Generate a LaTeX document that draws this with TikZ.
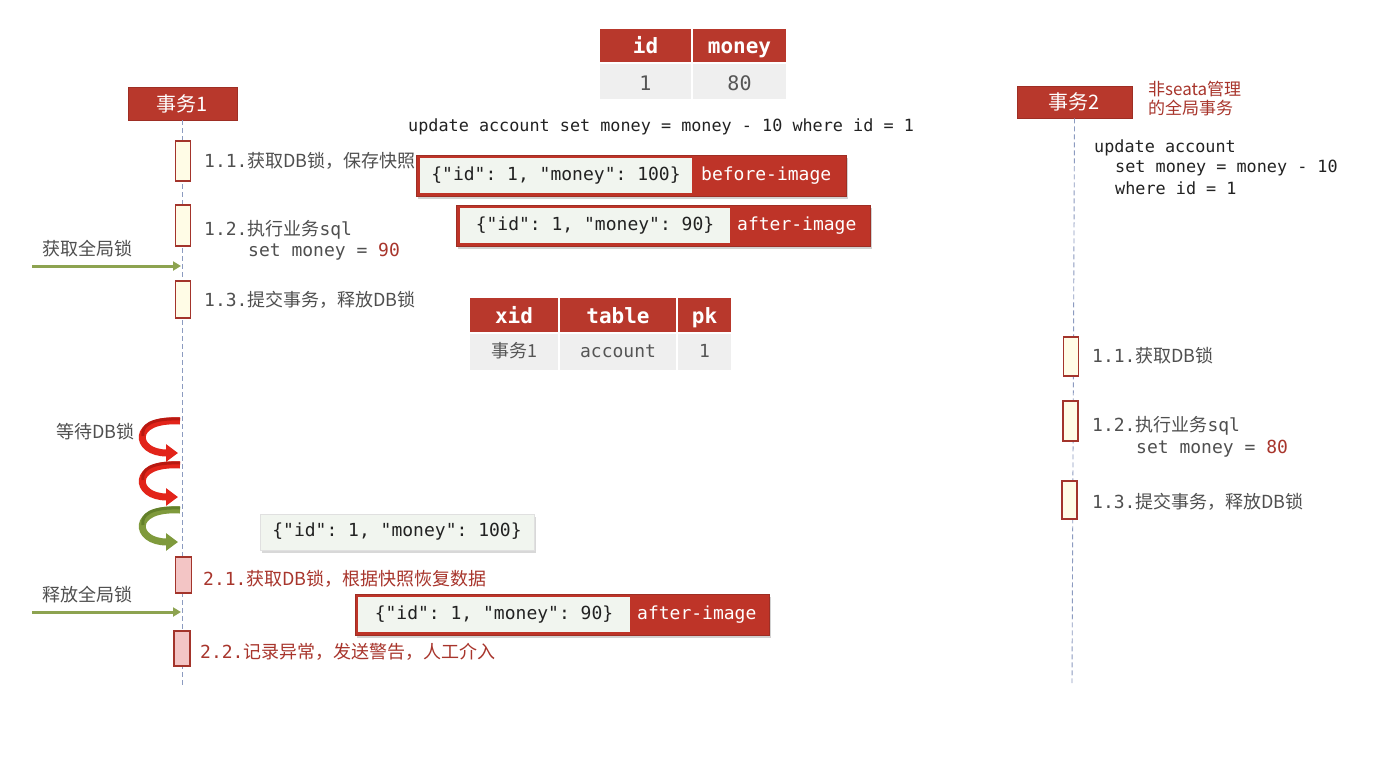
\documentclass[tikz,border=0pt]{standalone}
\usepackage{fontspec}
\setmainfont{Noto Sans CJK SC}
\setmonofont{DejaVu Sans Mono}
\newfontfamily\cjk{Noto Sans CJK SC}
\usetikzlibrary{shadows,arrows.meta}
\definecolor{hdr}{HTML}{B8382C}
\definecolor{hdrline}{HTML}{9E2E24}
\definecolor{cellbg}{HTML}{EFEFEF}
\definecolor{lifeline}{HTML}{8C9BC0}
\definecolor{actfill}{HTML}{FFFCE6}
\definecolor{actdraw}{HTML}{A3342B}
\definecolor{pinkfill}{HTML}{F3C5C5}
\definecolor{txtgray}{HTML}{4F4F4F}
\definecolor{celltxt}{HTML}{555555}
\definecolor{redtxt}{HTML}{A8352C}
\definecolor{jsonbg}{HTML}{F1F5EF}
\definecolor{arrgreen}{HTML}{8DA350}
\definecolor{curlred}{HTML}{E2241A}
\definecolor{curlredd}{HTML}{B81810}
\definecolor{curlgreen}{HTML}{7F9A3C}
\definecolor{curlgreend}{HTML}{63802A}
\definecolor{codetxt}{HTML}{222222}
\tikzset{
  hdrbox/.style={rectangle, fill=hdr, draw=hdrline, line width=0.6pt, text=white, inner sep=0pt,
    font=\cjk\fontsize{20}{24}\selectfont},
  thcell/.style={rectangle, fill=hdr, text=white, inner sep=0pt, text height=18pt, text depth=2pt,
    font=\ttfamily\bfseries\fontsize{21}{24}\selectfont},
  tdcell/.style={rectangle, fill=cellbg, text=celltxt, inner sep=0pt, text height=14pt, text depth=4pt,
    font=\ttfamily\fontsize{18}{22}\selectfont},
  topcell/.style={tdcell, text height=18pt, text depth=1pt, font=\ttfamily\fontsize{20}{22}\selectfont},
  act/.style={rectangle, draw=actdraw, fill=actfill, line width=1.3pt, inner sep=0pt, minimum width=15pt},
  actpink/.style={act, fill=pinkfill},
  lbl/.style={anchor=west, inner sep=0pt, text=txtgray, font=\fontsize{18}{22}\selectfont},
  redlbl/.style={lbl, text=redtxt},
  code/.style={anchor=west, inner sep=0pt, text=codetxt, font=\ttfamily\fontsize{16.8}{20}\selectfont},
  life/.style={draw=lifeline, line width=0.9pt, dash pattern=on 5pt off 3pt},
  garrow/.style={draw=arrgreen, line width=3pt, -{Triangle[length=8pt,width=9pt]}},
  curl/.style={line width=7pt, -{Triangle[length=12pt,width=17pt]}},
  curlin/.style={line width=3pt},
  imgred/.style={rectangle, fill=hdr!92!red, draw=hdrline, line width=0.6pt, inner sep=0pt,
    drop shadow={shadow xshift=1.5pt, shadow yshift=-2.5pt, opacity=0.35}},
  jsonbox/.style={rectangle, fill=jsonbg, inner sep=0pt, text=codetxt,
    font=\ttfamily\fontsize{18}{22}\selectfont},
  imglbl/.style={anchor=west, inner sep=0pt, text=white, font=\ttfamily\fontsize{18}{22}\selectfont},
}
\begin{document}
\begin{tikzpicture}[x=1pt, y=-1pt]
\useasboundingbox (0,0) rectangle (1378,771);
\fill[white] (0,0) rectangle (1378,771);

% ---------- top table ----------
\node[thcell, minimum width=91pt, minimum height=33pt] (hid) at (645.5,45.5) {id};
\node[thcell, minimum width=93pt, minimum height=33pt] (hmoney) at (739.5,45.5) {money};
\node[topcell, minimum width=91pt, minimum height=35pt] (did) at (645.5,81.5) {1};
\node[topcell, minimum width=93pt, minimum height=35pt] (dmoney) at (739.5,81.5) {80};

% ---------- update statement ----------
\node[code] (upd) at (408,127) {update account set money = money - 10 where id = 1};

% ---------- headers and lifelines ----------
\node[hdrbox, minimum width=109pt, minimum height=33pt] (t1) at (182.5,103.5) {事务1};
\node[hdrbox, minimum width=115pt, minimum height=32pt] (t2) at (1074.5,102) {事务2};
\coordinate (t1end) at (182.5,685);
\coordinate (t2end) at (1072,683);
\draw[life] (t1.south) -- (t1end);
\draw[life] (t2.south) -- (t2end);

\node[anchor=north west, inner sep=0pt, align=left, text=redtxt, font=\cjk\fontsize{17}{19}\selectfont]
  (note) at (1148,81) {非seata管理\\的全局事务};

\node[code] (u1) at (1094,148) {update account};
\node[code] (u2) at (1115,168) {set money = money - 10};
\node[code] (u3) at (1115,188) {where id = 1};

% ---------- activation boxes T1 ----------
\node[act, minimum height=40pt] (a11) at (183,161) {};
\node[act, minimum height=41pt] (a12) at (183,225.5) {};
\node[act, minimum height=37pt] (a13) at (183,299.5) {};
\node[actpink, minimum height=36pt, minimum width=16pt] (a21) at (183.5,575) {};
\node[actpink, minimum height=35pt, minimum width=16pt] (a22) at (182,648.5) {};

\node[lbl] (l11) at (204,161) {\ttfamily 1.1.\cjk 获取DB锁，保存快照};
\node[lbl] (l12) at (204,230) {\ttfamily 1.2.\cjk 执行业务\ttfamily sql};
\node[lbl] (l12b) at (248,252) {\ttfamily set money = \textcolor{redtxt}{90}};
\node[lbl] (l13) at (204,300) {\ttfamily 1.3.\cjk 提交事务，释放DB锁};
\node[redlbl] (l21) at (203,579) {\ttfamily 2.1.\cjk 获取DB锁，根据快照恢复数据};
\node[redlbl] (l22) at (200,652) {\ttfamily 2.2.\cjk 记录异常，发送警告，人工介入};

% ---------- activation boxes T2 ----------
\node[act, minimum height=39pt] (b11) at (1071,356.5) {};
\node[act, minimum height=40pt] (b12) at (1070.5,421) {};
\node[act, minimum height=38pt] (b13) at (1069.5,500) {};

\node[lbl] (m11) at (1092,356) {\ttfamily 1.1.\cjk 获取DB锁};
\node[lbl] (m12) at (1092,426) {\ttfamily 1.2.\cjk 执行业务\ttfamily sql};
\node[lbl] (m12b) at (1136,449) {\ttfamily set money = \textcolor{redtxt}{80}};
\node[lbl] (m13) at (1092,502) {\ttfamily 1.3.\cjk 提交事务，释放DB锁};

% ---------- global lock arrows ----------
\node[lbl] (gl1) at (42,249) {获取全局锁};
\coordinate (g1s) at (32,266);
\coordinate (g1e) at (181,266);
\draw[garrow] (g1s) -- (g1e);

\node[lbl] (gl2) at (42,595) {释放全局锁};
\coordinate (g2s) at (32,612);
\coordinate (g2e) at (181,612);
\draw[garrow] (g2s) -- (g2e);

% ---------- waiting curls ----------
\node[lbl] (wait) at (56,432) {等待DB锁};
\coordinate (c1s) at (180,421);
\coordinate (c1e) at (178,453);
\draw[curl, draw=curlred] (c1s) .. controls (130,418) and (134,453) .. (c1e);
\draw[curlin, draw=curlredd] (180,419) .. controls (150,418) and (141,426) .. (143,436);
\coordinate (c2s) at (180,465);
\coordinate (c2e) at (178,497);
\draw[curl, draw=curlred] (c2s) .. controls (130,462) and (134,497) .. (c2e);
\draw[curlin, draw=curlredd] (180,463) .. controls (150,462) and (141,470) .. (143,480);
\coordinate (c3s) at (180,510);
\coordinate (c3e) at (178,542);
\draw[curl, draw=curlgreen] (c3s) .. controls (130,507) and (134,542) .. (c3e);
\draw[curlin, draw=curlgreend] (180,508) .. controls (150,507) and (141,515) .. (143,525);

% ---------- undo log table ----------
\node[thcell, minimum width=88pt, minimum height=34pt] (hxid) at (514,315) {xid};
\node[thcell, minimum width=116pt, minimum height=34pt] (htable) at (618,315) {table};
\node[thcell, minimum width=53pt, minimum height=34pt] (hpk) at (704.5,315) {pk};
\node[tdcell, minimum width=88pt, minimum height=36pt, font=\cjk\fontsize{18}{22}\selectfont] (dxid) at (514,352) {事务1};
\node[tdcell, minimum width=116pt, minimum height=36pt] (dtable) at (618,352) {account};
\node[tdcell, minimum width=53pt, minimum height=36pt] (dpk) at (704.5,352) {1};

% ---------- before-image ----------
\node[imgred, minimum width=430pt, minimum height=41pt] (bi) at (631,175.5) {};
\node[jsonbox, minimum width=272pt, minimum height=35pt] (bij) at (556,175.5) {\{"id": 1, "money": 100\}};
\node[imglbl] (bil) at (701,175.5) {before-image};

% ---------- after-image ----------
\node[imgred, minimum width=414pt, minimum height=41pt] (ai) at (663,225.5) {};
\node[jsonbox, minimum width=270pt, minimum height=35pt] (aij) at (595,225.5) {\{"id": 1, "money": 90\}};
\node[imglbl] (ail) at (737,225.5) {after-image};

% ---------- restored snapshot ----------
\node[jsonbox, draw=black!12, minimum width=274pt, minimum height=36pt,
  drop shadow={shadow xshift=1.5pt, shadow yshift=-2.5pt, opacity=0.3}] (snap) at (397,532) {\{"id": 1, "money": 100\}};

% ---------- after-image (bottom) ----------
\node[imgred, minimum width=414pt, minimum height=41pt] (ai2) at (562,614.5) {};
\node[jsonbox, minimum width=272pt, minimum height=35pt] (ai2j) at (494,614.5) {\{"id": 1, "money": 90\}};
\node[imglbl] (ai2l) at (637,614.5) {after-image};
\end{tikzpicture}
\end{document}
